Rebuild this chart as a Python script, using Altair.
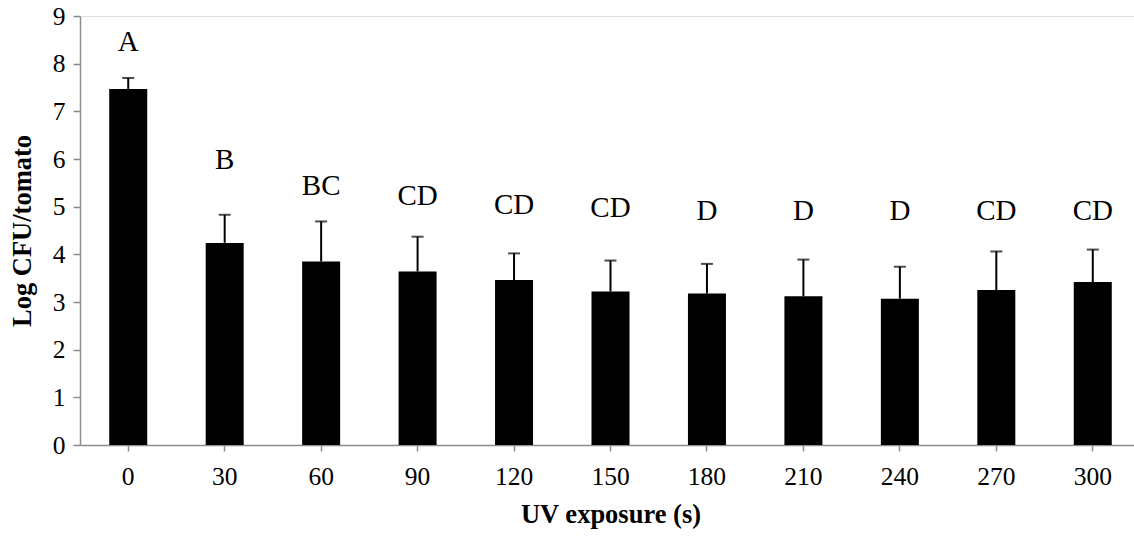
import altair as alt
import pandas as pd

exposure = ["0", "30", "60", "90", "120", "150", "180", "210", "240", "270", "300"]
mean_log = [7.47, 4.24, 3.85, 3.64, 3.46, 3.22, 3.18, 3.12, 3.07, 3.25, 3.42]
sd_log = [0.23, 0.59, 0.84, 0.73, 0.56, 0.65, 0.62, 0.77, 0.67, 0.81, 0.68]
letters = ["A", "B", "BC", "CD", "CD", "CD", "D", "D", "D", "CD", "CD"]
letter_y = [8.26, 5.80, 5.24, 5.03, 4.85, 4.78, 4.73, 4.73, 4.73, 4.73, 4.73]

df = pd.DataFrame({
    "exposure": exposure,
    "mean": mean_log,
    "upper": [m + s for m, s in zip(mean_log, sd_log)],
    "letter": letters,
    "letter_y": letter_y,
})

FONT = "Liberation Serif"
GRAY = "#8c8c8c"

x_enc = alt.X(
    "exposure:N", sort=exposure,
    scale=alt.Scale(paddingInner=0.606, paddingOuter=0.303, range=[0, 1061]),
    axis=alt.Axis(title="UV exposure (s)", labelAngle=0, labelFont=FONT, labelFontSize=25.5,
                  labelColor="black", labelPadding=13, tickSize=6, tickColor=GRAY,
                  domainColor=GRAY, domainWidth=1.5, tickWidth=1.5,
                  titleFont=FONT, titleFontSize=26.5, titleFontWeight="bold",
                  titleColor="black", titlePadding=12, grid=False),
)

y_scale = alt.Scale(domain=[0, 9], nice=False)

bars = alt.Chart(df).mark_bar(color="black").encode(
    x=x_enc,
    y=alt.Y("mean:Q", scale=y_scale,
            axis=alt.Axis(title="Log CFU/tomato", values=list(range(10)), labelFont=FONT,
                          labelFontSize=25.5, labelColor="black", labelPadding=8,
                          tickSize=7, tickColor=GRAY, domainColor=GRAY, domainWidth=1.5,
                          tickWidth=1.5, titleFont=FONT, titleFontSize=26.5,
                          titleFontWeight="bold", titleColor="black", titlePadding=16,
                          grid=False)),
)

rules = alt.Chart(df).mark_rule(color="black", strokeWidth=2).encode(
    x=alt.X("exposure:N", sort=exposure),
    y=alt.Y("mean:Q", scale=y_scale),
    y2="upper:Q",
)

caps = alt.Chart(df).mark_tick(color="black", size=12, thickness=2, orient="horizontal").encode(
    x=alt.X("exposure:N", sort=exposure),
    y=alt.Y("upper:Q", scale=y_scale),
)

text = alt.Chart(df).mark_text(font=FONT, fontSize=29, color="black",
                               baseline="alphabetic", align="center").encode(
    x=alt.X("exposure:N", sort=exposure),
    y=alt.Y("letter_y:Q", scale=y_scale),
    text="letter:N",
)

chart = alt.layer(bars, rules, caps, text).properties(
    width=1054, height=429,
    autosize=alt.AutoSizeParams(type="none"),
    padding={"left": 80, "top": 16, "right": 0, "bottom": 91},
).configure_view(stroke=None).configure(background="white")

chart.save("out.html", embed_options={"renderer": "svg", "actions": False})
